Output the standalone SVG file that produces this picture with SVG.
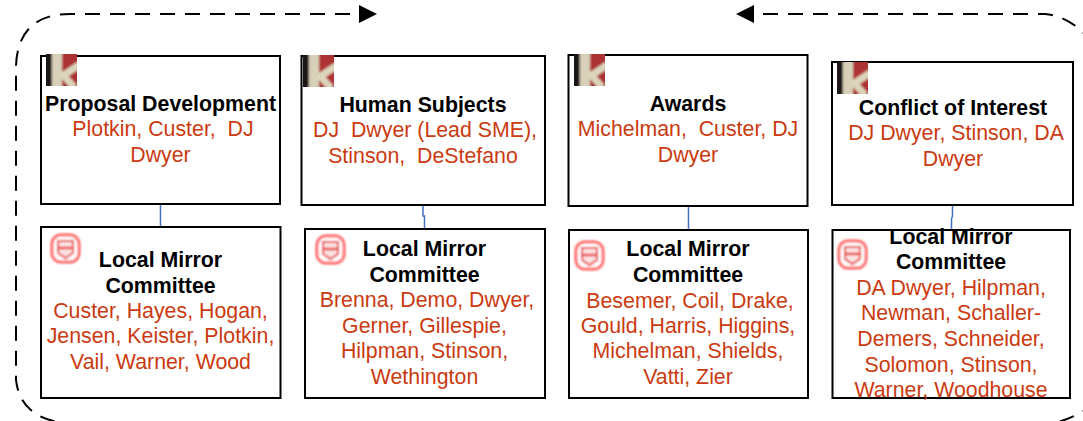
<svg xmlns="http://www.w3.org/2000/svg" xmlns:xlink="http://www.w3.org/1999/xlink" width="1083" height="421" viewBox="0 0 1083 421">
<style>
.box{fill:#fff;stroke:#000;stroke-width:2}
.dash{fill:none;stroke:#000;stroke-width:2;stroke-dasharray:15 10}
.conn{fill:none;stroke:#4472c4;stroke-width:1.500}
text{font-family:"Liberation Sans",Arial,sans-serif;font-size:21.330px;text-anchor:middle}
.h{font-weight:700;fill:#000}
.r{fill:#cb3a10}
</style>
<defs>
<filter id="soft" x="-10%" y="-10%" width="120%" height="120%"><feGaussianBlur stdDeviation="1"/></filter>
<clipPath id="kc"><rect width="31" height="32"/></clipPath>
<g id="klogo" clip-path="url(#kc)">
<g filter="url(#soft)">
<rect x="-2" y="-2" width="35" height="36" fill="#ad3033"/>
<rect x="-2" y="-2" width="18" height="36" fill="#d8d0b8"/>
<rect x="-2" y="-2" width="8" height="36" fill="#1f1914"/>
<path d="M14 21H18L33 11M17 21L28 33" fill="none" stroke="#dcd5bc" stroke-width="7"/>
</g>
</g>
<g id="shield" filter="url(#soft)">
<rect x="2" y="2" width="27" height="27" rx="9" fill="#fff" stroke="#f33" stroke-width="3" opacity=".8"/>
<path d="M8 8H23V20L15.500 25L8 20Z" fill="#fde4e4" stroke="#e83a3a" stroke-width="2"/>
<path d="M9 15H22" stroke="#e83a3a" stroke-width="2.500"/>
</g>
</defs>
<g id="connectors">
<path class="dash" d="M375 14H70Q18 14 16 66V380Q20 415 58 422"/>
<path class="dash" d="M1095 403Q1075 419 1050 424"/>
<path class="dash" d="M738 14H1045Q1070 16 1090 40"/>
<path d="M377 14L359 5V23Z" fill="#000"/>
<path d="M736 14L754 5V23Z" fill="#000"/>
<path class="conn" d="M160.500 204V226"/>
<path class="conn" d="M423 205V216H424.500V229"/>
<path class="conn" d="M688.500 206V230"/>
<path class="conn" d="M952.500 205V216L951.500 219V230"/>
</g>
<g id="proposal-development">
<rect class="box" x="41" y="56" width="239" height="148"/>
<use xlink:href="#klogo" x="46" y="54"/>
<text class="h" x="160.500" y="111">Proposal Development</text>
<text class="r" x="163" y="136" xml:space="preserve">Plotkin, Custer,  DJ</text>
<text class="r" x="160.500" y="162">Dwyer</text>
</g>
<g id="human-subjects">
<rect class="box" x="301.500" y="56" width="243.500" height="149"/>
<use xlink:href="#klogo" x="303" y="55"/>
<text class="h" x="423" y="112">Human Subjects</text>
<text class="r" x="425" y="137" xml:space="preserve">DJ  Dwyer (Lead SME),</text>
<text class="r" x="423" y="163" xml:space="preserve">Stinson,  DeStefano</text>
</g>
<g id="awards">
<rect class="box" x="568.500" y="55" width="239" height="151"/>
<use xlink:href="#klogo" x="574" y="54"/>
<text class="h" x="688" y="111">Awards</text>
<text class="r" x="688" y="136" xml:space="preserve">Michelman,  Custer, DJ</text>
<text class="r" x="688" y="162">Dwyer</text>
</g>
<g id="conflict-of-interest">
<rect class="box" x="832" y="62" width="241" height="143"/>
<use xlink:href="#klogo" x="837" y="62"/>
<text class="h" x="953" y="115">Conflict of Interest</text>
<text class="r" x="956" y="140">DJ Dwyer, Stinson, DA</text>
<text class="r" x="953" y="166">Dwyer</text>
</g>
<g id="mirror-1">
<rect class="box" x="41" y="227" width="239.500" height="171"/>
<use xlink:href="#shield" x="50" y="233"/>
<text class="h" x="160.500" y="267">Local Mirror</text>
<text class="h" x="160.500" y="293">Committee</text>
<text class="r" x="160.500" y="318">Custer, Hayes, Hogan,</text>
<text class="r" x="160.500" y="343">Jensen, Keister, Plotkin,</text>
<text class="r" x="160.500" y="369">Vail, Warner, Wood</text>
</g>
<g id="mirror-2">
<rect class="box" x="305" y="229" width="240" height="169"/>
<use xlink:href="#shield" x="315" y="234"/>
<text class="h" x="424.500" y="256">Local Mirror</text>
<text class="h" x="424.500" y="282">Committee</text>
<text class="r" x="427" y="307">Brenna, Demo, Dwyer,</text>
<text class="r" x="424.500" y="333">Gerner, Gillespie,</text>
<text class="r" x="424.500" y="358">Hilpman, Stinson,</text>
<text class="r" x="424.500" y="384">Wethington</text>
</g>
<g id="mirror-3">
<rect class="box" x="569" y="230" width="239" height="168"/>
<use xlink:href="#shield" x="574" y="240"/>
<text class="h" x="688" y="256">Local Mirror</text>
<text class="h" x="688" y="282">Committee</text>
<text class="r" x="690" y="308">Besemer, Coil, Drake,</text>
<text class="r" x="688" y="333">Gould, Harris, Higgins,</text>
<text class="r" x="688" y="358">Michelman, Shields,</text>
<text class="r" x="688" y="384">Vatti, Zier</text>
</g>
<g id="mirror-4">
<rect class="box" x="832.500" y="230" width="237.500" height="168"/>
<use xlink:href="#shield" x="837" y="239"/>
<text class="h" x="951" y="244">Local Mirror</text>
<text class="h" x="951" y="269">Committee</text>
<text class="r" x="951" y="295">DA Dwyer, Hilpman,</text>
<text class="r" x="951" y="320">Newman, Schaller-</text>
<text class="r" x="951" y="346">Demers, Schneider,</text>
<text class="r" x="951" y="372">Solomon, Stinson,</text>
<text class="r" x="951" y="397">Warner, Woodhouse</text>
</g>
</svg>
